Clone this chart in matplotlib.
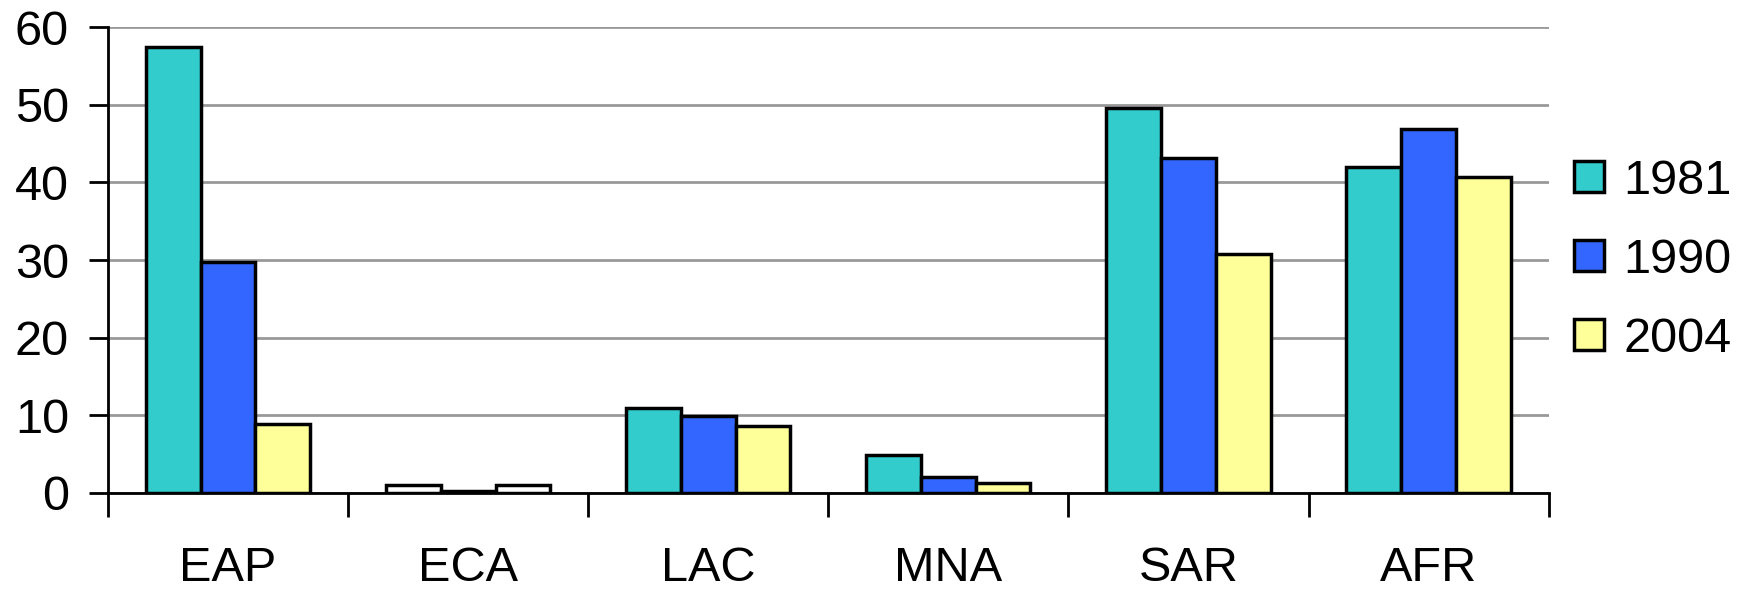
import matplotlib.pyplot as plt
import numpy as np

plt.rcParams['font.family'] = ['Liberation Sans', 'DejaVu Sans']

regions = ['EAP', 'ECA', 'LAC', 'MNA', 'SAR', 'AFR']
years = ['1981', '1990', '2004']
v1981 = [57.5, 1.0, 10.9, 4.9, 49.6, 42.0]
v1990 = [29.8, 0.3, 9.9, 2.0, 43.1, 46.9]
v2004 = [8.9, 1.0, 8.6, 1.3, 30.8, 40.7]

colors = ['#33CCCC', '#3366FF', '#FFFF99']

fig = plt.figure(figsize=(17.42, 5.91), dpi=100)
ax = fig.add_axes([0.062, 0.166, 0.827, 0.788])

x = np.arange(len(regions))
w = 0.228
series = [v1981, v1990, v2004]
for i, vals in enumerate(series):
    bars = ax.bar(x + (i - 1) * w, vals, w, color=colors[i], edgecolor='black',
                  linewidth=2.5, label=years[i], zorder=3)
    # ECA bars are drawn unfilled in the original
    bars[1].set_facecolor('white')

ax.set_xlim(-0.5, len(regions) - 0.5)
ax.set_ylim(0, 60)
ax.set_yticks(range(0, 61, 10))
ax.yaxis.grid(True, color='#999999', linewidth=2, zorder=0)
ax.set_axisbelow(True)

ax.set_xticks(np.arange(-0.5, len(regions), 1))
ax.set_xticklabels([])
ax.set_xticks(x, minor=True)
ax.set_xticklabels(regions, minor=True)
ax.tick_params(axis='x', which='major', direction='out', length=17, width=2)
ax.tick_params(axis='x', which='minor', length=0, pad=38, labelsize=35)
ax.tick_params(axis='y', direction='out', length=14, width=2, labelsize=35, pad=14)

for s in ['top', 'right']:
    ax.spines[s].set_visible(False)
for s in ['left', 'bottom']:
    ax.spines[s].set_linewidth(2)

leg = ax.legend(loc='center left', bbox_to_anchor=(0.987, 0.5), frameon=False,
                fontsize=35, handlelength=0.62, handleheight=0.62, labelspacing=0.7,
                handletextpad=0.4, borderpad=0.4)
for h in leg.legend_handles:
    h.set_linewidth(2.5)

fig.savefig('out.png', dpi=100)
